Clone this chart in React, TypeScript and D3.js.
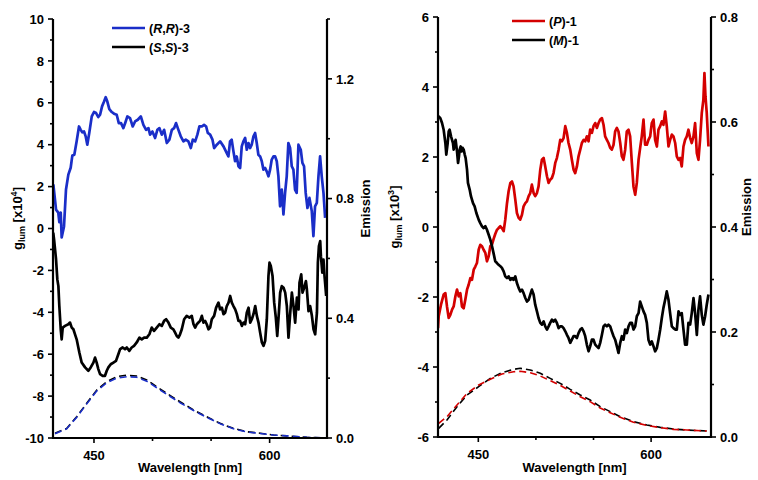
import React from "react";
import * as d3 from "d3";

type Pt = [number, number];

// ---------- Left panel: compound 3 ----------
const rrGlum: Pt[] = [
  [415.3, 2.1], [417.6, 0.9], [419.5, 0.76], [420.4, 0.3], [421.6, 0.76], [422.4, -0.43], [424.4, 0.1],
  [426.1, 1.86], [428.1, 2.57], [430.1, 2.9], [431.5, 3.48], [433.2, 3.52], [435.2, 4.16], [437.2, 4.87],
  [438.7, 4.71], [440.0, 4.59], [441.5, 4.63], [442.9, 4.4], [444.3, 4.0], [446.0, 4.57], [448.1, 5.35],
  [450.0, 5.56], [451.8, 5.51], [453.7, 5.32], [455.2, 5.43], [456.9, 5.83], [458.6, 6.06], [460.0, 6.27],
  [461.4, 6.06], [463.1, 5.7], [465.2, 5.56], [467.1, 5.48], [469.4, 5.43], [471.2, 5.03], [473.1, 5.03],
  [475.1, 4.79], [476.8, 5.06], [478.5, 5.35], [480.8, 5.27], [483.1, 4.87], [485.1, 5.11], [487.4, 5.19],
  [490.0, 5.35], [492.2, 4.95], [494.5, 4.71], [496.5, 4.79], [497.9, 4.48], [499.9, 4.63], [502.2, 4.32],
  [504.1, 4.71], [505.9, 4.79], [507.9, 4.48], [509.9, 4.71], [512.2, 4.08], [514.4, 4.24], [516.5, 4.71],
  [518.4, 4.79], [520.1, 5.03], [522.1, 4.71], [524.1, 4.4], [526.4, 4.16], [528.4, 4.24], [530.6, 4.16],
  [532.7, 3.84], [534.4, 4.24], [536.4, 4.16], [538.3, 4.48], [540.0, 4.87], [542.1, 4.87], [544.0, 4.95],
  [545.8, 4.87], [547.2, 4.56], [549.2, 4.48], [551.2, 4.24], [552.6, 3.84], [554.9, 4.0], [557.7, 4.16],
  [560.6, 3.92], [563.4, 3.6], [564.8, 3.44], [566.2, 4.16], [567.6, 4.24], [569.1, 3.68], [570.5, 3.21],
  [571.9, 3.44], [573.4, 2.97], [574.8, 2.89], [576.2, 3.92], [577.6, 4.16], [579.1, 4.32], [580.5, 3.76],
  [581.9, 4.08], [583.3, 3.84], [584.7, 4.0], [586.2, 4.4], [587.6, 4.56], [589.0, 4.08], [590.4, 3.52],
  [591.9, 3.44], [593.3, 3.21], [594.7, 2.81], [596.1, 2.89], [597.5, 2.73], [599.0, 2.49], [600.4, 2.81],
  [601.8, 3.29], [603.3, 3.44], [604.7, 3.44], [606.1, 3.21], [607.5, 2.49], [608.9, 1.06], [610.4, 1.86],
  [611.8, 0.67], [613.2, 1.7], [614.6, 2.49], [616.0, 4.08], [617.5, 3.84], [618.9, 2.97], [620.3, 2.81],
  [621.7, 1.86], [623.1, 1.7], [624.6, 4.0], [626.6, 3.76], [628.0, 3.13], [629.4, 2.97], [630.8, 1.7],
  [632.3, 0.98], [634.0, 1.46], [636.0, 0.83], [637.4, -0.36], [638.8, 1.06], [640.3, 1.22], [641.7, 2.49],
  [643.1, 3.44], [644.5, 2.49], [646.0, 1.7], [647.4, 0.51],
];

const ssGlum: Pt[] = [
  [415.2, -0.2], [415.9, -0.52], [417.6, -1.48], [418.7, -2.43], [419.6, -2.75], [420.4, -3.7], [421.6, -4.81],
  [422.4, -5.29], [423.3, -4.73], [425.3, -4.65], [428.1, -4.57], [429.5, -4.49], [431.0, -4.73], [432.4, -4.81],
  [433.8, -5.05], [435.2, -5.29], [437.5, -5.92], [439.5, -6.4], [442.4, -6.63], [445.2, -6.79], [447.2, -6.63],
  [449.5, -6.4], [450.9, -6.16], [452.3, -6.4], [453.7, -6.71], [455.2, -6.95], [457.4, -7.03], [459.4, -7.03],
  [460.9, -6.79], [462.3, -6.63], [464.3, -6.48], [466.6, -6.4], [468.8, -6.32], [470.8, -6.0], [472.3, -5.76],
  [474.5, -5.68], [476.5, -5.76], [478.0, -5.68], [480.2, -5.84], [482.2, -5.68], [484.2, -5.6], [486.5, -5.44],
  [488.8, -5.21], [490.8, -5.29], [492.8, -5.21], [495.1, -5.21], [497.3, -5.05], [499.3, -4.73], [501.3, -4.89],
  [503.6, -4.73], [505.9, -4.57], [507.9, -4.65], [509.9, -4.41], [511.6, -4.33], [513.6, -4.49], [515.6, -4.73],
  [517.8, -4.81], [519.3, -4.97], [520.7, -5.13], [522.1, -5.21], [523.5, -5.05], [525.0, -4.81], [527.0, -4.33],
  [529.2, -4.17], [531.5, -4.25], [533.5, -4.17], [535.0, -4.57], [536.4, -4.73], [537.8, -4.57], [539.2, -4.49],
  [540.6, -4.41], [542.1, -4.17], [543.5, -4.49], [544.9, -4.41], [546.3, -4.57], [547.8, -4.81], [549.2, -4.73],
  [550.6, -4.33], [552.6, -4.17], [554.3, -3.78], [556.3, -3.54], [557.7, -3.86], [559.2, -3.78], [560.6, -4.09],
  [562.0, -4.02], [563.4, -3.7], [564.9, -3.54], [566.3, -3.22], [567.7, -3.54], [569.1, -3.7], [570.6, -3.86],
  [572.0, -4.09], [573.4, -4.41], [574.8, -4.41], [576.3, -4.65], [577.7, -4.49], [579.1, -4.57], [580.5, -4.02],
  [582.0, -3.78], [583.4, -4.49], [584.8, -4.33], [586.2, -4.09], [587.7, -3.7], [589.1, -4.17], [590.5, -4.49],
  [591.9, -4.97], [593.4, -5.44], [594.8, -5.6], [596.2, -5.36], [597.6, -4.33], [599.0, -2.27], [599.9, -1.63],
  [601.0, -1.79], [602.5, -2.27], [603.9, -3.54], [605.3, -4.25], [606.5, -5.13], [607.9, -4.02], [609.0, -3.06],
  [610.4, -2.75], [611.9, -2.83], [613.3, -3.06], [614.7, -3.7], [616.1, -5.21], [617.6, -4.02], [619.0, -3.06],
  [620.4, -3.7], [621.8, -4.49], [623.3, -3.3], [624.7, -3.86], [625.5, -2.59], [627.0, -2.19], [628.1, -3.06],
  [629.5, -2.83], [631.0, -2.51], [631.8, -2.9], [633.2, -3.94], [634.6, -3.7], [636.1, -4.17], [637.5, -4.81],
  [638.9, -5.05], [640.4, -4.02], [641.2, -1.63], [642.1, -0.84], [643.2, -0.6], [643.8, -1.32], [645.0, -2.11],
  [646.0, -1.48], [646.9, -2.27], [648.3, -3.22],
];

const ssEmission: Pt[] = [
  [416.7, 0.016], [426.7, 0.032], [435.2, 0.071], [443.8, 0.116], [452.3, 0.16], [460.9, 0.188], [469.4, 0.205],
  [478.0, 0.21], [486.5, 0.207], [495.1, 0.194], [503.6, 0.171], [512.2, 0.149], [523.5, 0.121], [535.0, 0.094],
  [546.3, 0.071], [557.7, 0.049], [569.1, 0.032], [580.5, 0.021], [591.9, 0.016], [603.3, 0.01], [614.7, 0.007],
  [631.8, 0.002], [647.5, 0.0],
];

const rrEmission: Pt[] = [
  [416.7, 0.014], [426.7, 0.031], [435.2, 0.069], [443.8, 0.114], [452.3, 0.157], [460.9, 0.185], [469.4, 0.2],
  [478.0, 0.205], [486.5, 0.203], [495.1, 0.19], [503.6, 0.168], [512.2, 0.146], [523.5, 0.118], [535.0, 0.092],
  [546.3, 0.069], [557.7, 0.048], [569.1, 0.031], [580.5, 0.02], [591.9, 0.015], [603.3, 0.01], [614.7, 0.007],
  [631.8, 0.002], [647.5, 0.0],
];

// ---------- Right panel: compound 1 ----------
const pGlum: Pt[] = [
  [415.0, -2.89], [415.6, -2.55], [417.6, -2.22], [419.9, -1.93], [421.4, -1.89], [422.8, -2.27], [424.3, -2.6],
  [425.7, -2.51], [427.2, -2.36], [428.6, -2.27], [430.1, -1.98], [431.5, -1.79], [433.0, -1.98], [434.4, -1.89],
  [435.8, -2.27], [437.3, -2.32], [438.7, -2.08], [440.2, -1.79], [441.6, -1.65], [443.1, -1.46], [444.5, -1.51],
  [446.0, -1.22], [447.4, -1.13], [448.8, -1.03], [450.3, -0.65], [451.7, -0.51], [453.2, -0.55], [454.6, -0.65],
  [456.1, -0.74], [457.5, -0.98], [459.0, -0.84], [460.4, -0.55], [461.9, -0.5], [463.3, -0.34], [464.7, -0.2],
  [466.2, -0.08], [467.6, -0.03], [469.1, 0.02], [470.5, -0.03], [472.0, -0.12], [473.4, 0.21], [474.9, 0.68],
  [476.3, 1.02], [477.8, 1.26], [479.2, 1.3], [480.6, 1.16], [482.1, 0.78], [483.5, 0.4], [485.0, 0.26],
  [486.4, 0.21], [487.9, 0.35], [489.3, 0.59], [490.8, 0.68], [492.2, 0.73], [493.7, 0.88], [495.1, 0.97],
  [496.5, 1.21], [498.0, 0.97], [499.4, 0.88], [500.9, 0.97], [502.3, 1.16], [503.8, 1.64], [505.2, 1.92],
  [506.7, 1.97], [508.1, 1.73], [509.6, 1.45], [511.0, 1.26], [512.4, 1.35], [513.9, 1.4], [515.3, 1.54],
  [516.8, 1.83], [518.2, 1.97], [519.7, 2.21], [521.1, 2.49], [522.6, 2.45], [524.0, 2.54], [525.5, 2.88],
  [526.9, 2.69], [528.3, 2.4], [529.8, 2.21], [531.2, 1.92], [532.7, 1.64], [534.1, 1.54], [535.6, 1.73],
  [537.0, 2.02], [538.5, 2.21], [539.9, 2.4], [541.4, 2.49], [542.8, 2.45], [544.2, 2.59], [545.7, 2.45],
  [547.1, 2.78], [548.6, 2.69], [550.0, 2.88], [551.5, 2.97], [552.9, 2.83], [554.4, 2.97], [555.8, 3.07],
  [557.3, 3.11], [558.7, 2.92], [560.1, 2.59], [561.6, 2.49], [563.0, 2.4], [564.5, 2.26], [565.9, 2.21],
  [567.4, 2.35], [568.8, 2.73], [570.3, 2.83], [571.7, 2.73], [573.2, 2.4], [574.6, 2.02], [576.0, 1.92],
  [577.5, 2.21], [578.9, 2.73], [580.4, 2.78], [581.8, 2.59], [583.3, 1.83], [584.7, 1.16], [586.2, 0.92],
  [587.6, 1.26], [589.1, 1.92], [590.5, 2.26], [591.9, 2.59], [593.4, 3.07], [594.8, 2.35], [596.3, 2.35],
  [597.7, 2.49], [599.2, 2.59], [600.6, 2.97], [602.1, 3.07], [603.5, 2.49], [605.0, 2.3], [606.4, 2.78],
  [607.9, 2.88], [609.3, 3.02], [610.7, 2.92], [612.2, 3.3], [613.6, 2.88], [615.1, 2.3], [616.5, 2.49],
  [618.0, 2.64], [619.4, 2.59], [620.9, 2.4], [622.3, 2.02], [623.8, 1.92], [625.2, 1.97], [626.6, 1.73],
  [628.1, 2.3], [629.5, 2.49], [631.0, 2.59], [632.4, 2.78], [633.9, 2.54], [635.3, 2.4], [636.8, 2.59],
  [638.2, 2.97], [639.7, 2.11], [641.1, 1.92], [642.5, 2.49], [644.0, 3.26], [645.4, 3.64], [646.3, 4.4],
  [647.2, 3.73], [648.3, 3.26], [649.8, 2.3],
];

const mGlum: Pt[] = [
  [415.0, 3.11], [415.6, 3.16], [417.0, 3.11], [418.5, 2.97], [419.9, 2.78], [421.4, 2.4], [422.2, 2.07],
  [423.4, 2.4], [424.3, 2.73], [425.1, 2.78], [426.3, 2.59], [427.2, 2.49], [428.0, 2.4], [428.6, 2.21],
  [429.5, 2.4], [430.3, 2.49], [431.5, 2.16], [432.4, 1.83], [433.2, 2.02], [433.8, 2.21], [434.7, 2.3],
  [435.5, 2.16], [436.4, 2.26], [437.3, 2.21], [438.2, 2.07], [439.0, 1.97], [440.2, 1.64], [441.0, 1.26],
  [442.5, 1.07], [443.6, 0.88], [445.4, 0.68], [446.8, 0.59], [448.3, 0.4], [450.3, 0.21], [451.7, 0.11],
  [453.2, 0.02], [454.6, -0.03], [456.1, 0.02], [457.5, -0.08], [459.0, -0.22], [460.4, -0.36], [461.9, -0.55],
  [463.3, -0.76], [464.7, -0.98], [466.2, -1.03], [467.6, -1.08], [469.1, -1.12], [470.5, -1.17], [472.0, -1.27],
  [473.4, -1.41], [474.9, -1.46], [476.3, -1.41], [477.8, -1.51], [479.2, -1.46], [480.6, -1.51], [482.1, -1.41],
  [483.5, -1.6], [485.0, -1.74], [486.4, -1.84], [487.9, -1.79], [489.3, -1.89], [490.8, -2.03], [492.2, -2.13],
  [493.7, -2.08], [495.1, -1.93], [496.5, -1.79], [498.0, -1.93], [499.4, -2.22], [500.9, -2.41], [502.3, -2.6],
  [503.8, -2.74], [505.2, -2.79], [506.7, -2.7], [508.1, -2.84], [509.6, -2.93], [511.0, -2.84], [512.4, -2.74],
  [513.9, -2.65], [515.3, -2.7], [516.8, -2.65], [518.2, -2.74], [519.7, -2.89], [521.1, -2.84], [522.6, -2.84],
  [524.0, -2.89], [525.5, -2.98], [526.9, -3.08], [528.3, -3.17], [529.8, -3.31], [531.2, -3.22], [532.7, -3.12],
  [534.1, -3.12], [535.6, -3.17], [537.0, -3.03], [538.5, -2.93], [539.9, -2.89], [541.4, -2.98], [542.8, -3.12],
  [544.2, -3.36], [545.7, -3.55], [547.1, -3.41], [548.6, -3.22], [550.0, -3.22], [551.5, -3.36], [552.9, -3.41],
  [554.4, -3.46], [555.8, -3.31], [557.3, -3.08], [558.7, -2.84], [560.1, -2.79], [561.6, -2.84], [563.0, -2.79],
  [564.5, -2.84], [565.9, -2.98], [567.4, -3.12], [568.8, -3.22], [570.3, -3.41], [571.7, -3.6], [573.2, -3.31],
  [574.6, -3.12], [576.0, -3.22], [577.5, -2.93], [578.9, -3.03], [580.4, -2.84], [581.8, -2.74], [583.3, -2.74],
  [584.7, -2.93], [586.2, -2.84], [587.6, -2.55], [589.1, -2.46], [590.5, -2.13], [591.9, -2.27], [593.4, -2.41],
  [594.8, -2.51], [596.3, -2.74], [597.7, -3.22], [599.2, -3.36], [600.6, -3.27], [602.1, -3.41], [603.5, -3.55],
  [605.0, -3.46], [606.4, -3.22], [607.9, -2.93], [609.3, -2.6], [610.7, -2.31], [612.2, -2.08], [613.6, -1.84],
  [615.1, -2.08], [616.5, -2.46], [618.0, -2.84], [619.4, -2.89], [620.9, -2.93], [622.3, -2.93], [623.8, -2.41],
  [625.2, -2.51], [626.6, -2.46], [628.1, -2.93], [629.5, -3.36], [631.0, -3.36], [632.4, -2.74], [633.9, -2.79],
  [635.3, -2.46], [636.8, -2.03], [638.2, -2.46], [639.7, -3.08], [641.1, -2.36], [642.5, -1.98], [644.0, -2.51],
  [645.4, -2.79], [646.9, -2.55], [648.3, -2.22], [649.8, -1.93],
];

const mEmission: Pt[] = [
  [415.6, 0.0165], [422.8, 0.0324], [431.5, 0.0578], [440.2, 0.08], [450.3, 0.0959], [460.4, 0.1117],
  [470.5, 0.1225], [480.6, 0.1289], [486.4, 0.1308], [495.1, 0.1276], [503.8, 0.1213], [512.4, 0.1117],
  [521.1, 0.1022], [529.8, 0.0908], [538.5, 0.08], [547.1, 0.0705], [555.8, 0.0578], [564.5, 0.0483],
  [573.2, 0.0387], [584.7, 0.0292], [596.3, 0.0229], [607.9, 0.0184], [619.4, 0.0152], [631.0, 0.0133],
  [648.3, 0.0114],
];

const pEmission: Pt[] = [
  [415.6, 0.026], [422.8, 0.0387], [431.5, 0.061], [440.2, 0.0832], [450.3, 0.099], [460.4, 0.1099],
  [470.5, 0.12], [480.6, 0.1244], [486.4, 0.1251], [495.1, 0.1226], [503.8, 0.1162], [512.4, 0.1073],
  [521.1, 0.0984], [529.8, 0.0876], [538.5, 0.0768], [547.1, 0.0673], [555.8, 0.0552], [564.5, 0.0463],
  [573.2, 0.0375], [584.7, 0.028], [596.3, 0.0222], [607.9, 0.0178], [619.4, 0.0146], [631.0, 0.0133],
  [648.3, 0.0114],
];

// Tick labels
const xLabelTicks = [450, 600];
const xAllTicks = [450, 500, 550, 600];
const leftGlumTicks = [-10, -8, -6, -4, -2, 0, 2, 4, 6, 8, 10];
const leftEmTicks = [0.0, 0.4, 0.8, 1.2];
const rightGlumTicks = [-6, -4, -2, 0, 2, 4, 6];
const rightEmTicks = [0.0, 0.2, 0.4, 0.6, 0.8];

const BLUE = "#1a2ec8";
const RED = "#d40000";
const FONT = "Liberation Sans, Arial, sans-serif";

interface SeriesDef {
  data: Pt[];
  color: string;
  dashed?: boolean;
  axis: "glum" | "em";
}

interface PanelProps {
  x0: number;
  x1: number;
  y0: number;
  y1: number;
  xDomain: [number, number];
  glumDomain: [number, number];
  emDomain: [number, number];
  glumTicks: number[];
  glumMinor: number[];
  emTicks: number[];
  emMinor: number[];
  emFormat: (v: number) => string;
  series: SeriesDef[];
  legend: { color: string; label: React.ReactNode }[];
  legendX: number;
  legendY: number;
  exponent: string;
  glumLabelX: number;
  emLabelX: number;
}

function Panel(p: PanelProps) {
  const x = d3.scaleLinear().domain(p.xDomain).range([p.x0, p.x1]);
  const yG = d3.scaleLinear().domain(p.glumDomain).range([p.y1, p.y0]);
  const yE = d3.scaleLinear().domain(p.emDomain).range([p.y1, p.y0]);
  const lineG = d3.line<Pt>().x((d) => x(d[0])).y((d) => yG(d[1]));
  const lineE = d3.line<Pt>().x((d) => x(d[0])).y((d) => yE(d[1]));
  const midX = (p.x0 + p.x1) / 2;
  const midY = (p.y0 + p.y1) / 2;
  const tickStyle = { stroke: "#000", strokeWidth: 1.6 };
  const labelStyle: React.CSSProperties = { fontFamily: FONT, fontWeight: 700, fontSize: 13 };

  return (
    <g>
      <defs>
        <clipPath id={`clip-${p.x0}`}>
          <rect x={p.x0} y={p.y0 - 2} width={p.x1 - p.x0} height={p.y1 - p.y0 + 2} />
        </clipPath>
      </defs>
      <g clipPath={`url(#clip-${p.x0})`}>
        {p.series.map((s, i) => (
          <path
            key={i}
            d={(s.axis === "glum" ? lineG : lineE)(s.data) || ""}
            fill="none"
            stroke={s.color}
            strokeWidth={s.dashed ? 1.6 : 2.7}
            strokeDasharray={s.dashed ? "7,4" : undefined}
            strokeLinejoin="round"
          />
        ))}
      </g>

      {/* axes lines */}
      <line x1={p.x0} x2={p.x0} y1={p.y0} y2={p.y1 + 1} stroke="#000" strokeWidth={2.2} />
      <line x1={p.x1} x2={p.x1} y1={p.y0} y2={p.y1 + 1} stroke="#000" strokeWidth={2.2} />
      <line x1={p.x0 - 1} x2={p.x1 + 1} y1={p.y1} y2={p.y1} stroke="#000" strokeWidth={2.2} />

      {/* left g_lum axis */}
      {p.glumTicks.map((t) => (
        <g key={`g${t}`}>
          <line x1={p.x0 - 5} x2={p.x0} y1={yG(t)} y2={yG(t)} {...tickStyle} />
          <text x={p.x0 - 9} y={yG(t)} dy="0.36em" textAnchor="end" style={labelStyle}>
            {t}
          </text>
        </g>
      ))}
      {p.glumMinor.map((t) => (
        <line key={`gm${t}`} x1={p.x0 - 3} x2={p.x0} y1={yG(t)} y2={yG(t)} {...tickStyle} />
      ))}

      {/* right emission axis */}
      {p.emTicks.map((t) => (
        <g key={`e${t}`}>
          <line x1={p.x1} x2={p.x1 + 5} y1={yE(t)} y2={yE(t)} {...tickStyle} />
          <text x={p.x1 + 9} y={yE(t)} dy="0.36em" textAnchor="start" style={labelStyle}>
            {p.emFormat(t)}
          </text>
        </g>
      ))}
      {p.emMinor.map((t) => (
        <line key={`em${t}`} x1={p.x1} x2={p.x1 + 3} y1={yE(t)} y2={yE(t)} {...tickStyle} />
      ))}

      {/* bottom wavelength axis */}
      {xAllTicks.map((t) => (
        <line
          key={`x${t}`}
          x1={x(t)}
          x2={x(t)}
          y1={p.y1}
          y2={p.y1 + (xLabelTicks.includes(t) ? 5 : 3)}
          {...tickStyle}
        />
      ))}
      {xLabelTicks.map((t) => (
        <text key={`xl${t}`} x={x(t)} y={p.y1 + 22} textAnchor="middle" style={labelStyle}>
          {t}
        </text>
      ))}
      <text x={midX} y={472} textAnchor="middle" style={labelStyle}>
        Wavelength [nm]
      </text>

      {/* axis titles */}
      <text
        transform={`translate(${p.glumLabelX},${midY - 10}) rotate(-90)`}
        textAnchor="middle"
        style={labelStyle}
      >
        g<tspan fontSize={9} dy={3}>lum</tspan>
        <tspan dy={-3}> [x10</tspan>
        <tspan fontSize={9} dy={-5}>{p.exponent}</tspan>
        <tspan dy={5}>]</tspan>
      </text>
      <text
        transform={`translate(${p.emLabelX},${midY - 20}) rotate(-90)`}
        textAnchor="middle"
        style={labelStyle}
      >
        Emission
      </text>

      {/* legend */}
      {p.legend.map((l, i) => (
        <g key={`lg${i}`} transform={`translate(${p.legendX},${p.legendY + i * 19})`}>
          <line x1={0} x2={33} y1={0} y2={0} stroke={l.color} strokeWidth={2.6} />
          <text x={37} y={0} dy="0.36em" style={{ ...labelStyle, fontSize: 12.5 }}>
            {l.label}
          </text>
        </g>
      ))}
    </g>
  );
}

const It = ({ children }: { children: React.ReactNode }) => (
  <tspan fontStyle="italic">{children}</tspan>
);

export default function App() {
  return (
    <svg
      width={758}
      height={480}
      viewBox="0 0 758 480"
      style={{ position: "absolute", left: 0, top: 0, background: "#fff" }}
    >
      <rect width={758} height={480} fill="#fff" />
      <Panel
        x0={53}
        x1={327}
        y0={19}
        y1={438}
        xDomain={[415, 649]}
        glumDomain={[-10, 10]}
        emDomain={[0, 1.4]}
        glumTicks={leftGlumTicks}
        glumMinor={d3.range(-9, 10, 2)}
        emTicks={leftEmTicks}
        emMinor={[0.2, 0.6, 1.0, 1.4]}
        emFormat={(v) => v.toFixed(1)}
        series={[
          { data: rrGlum, color: BLUE, axis: "glum" },
          { data: ssGlum, color: "#000", axis: "glum" },
          { data: ssEmission, color: "#000", dashed: true, axis: "em" },
          { data: rrEmission, color: BLUE, dashed: true, axis: "em" },
        ]}
        legend={[
          { color: BLUE, label: <>(<It>R</It>,<It>R</It>)-3</> },
          { color: "#000", label: <>(<It>S</It>,<It>S</It>)-3</> },
        ]}
        legendX={112}
        legendY={28}
        exponent="4"
        glumLabelX={22}
        emLabelX={370}
      />
      <Panel
        x0={438}
        x1={711}
        y0={17}
        y1={437}
        xDomain={[415, 652]}
        glumDomain={[-6, 6]}
        emDomain={[0, 0.8]}
        glumTicks={rightGlumTicks}
        glumMinor={d3.range(-5, 6, 2)}
        emTicks={rightEmTicks}
        emMinor={[0.1, 0.3, 0.5, 0.7]}
        emFormat={(v) => v.toFixed(1)}
        series={[
          { data: pGlum, color: RED, axis: "glum" },
          { data: mGlum, color: "#000", axis: "glum" },
          { data: mEmission, color: "#000", dashed: true, axis: "em" },
          { data: pEmission, color: RED, dashed: true, axis: "em" },
        ]}
        legend={[
          { color: RED, label: <>(<It>P</It>)-1</> },
          { color: "#000", label: <>(<It>M</It>)-1</> },
        ]}
        legendX={512}
        legendY={21}
        exponent="3"
        glumLabelX={399}
        emLabelX={751}
      />
    </svg>
  );
}
